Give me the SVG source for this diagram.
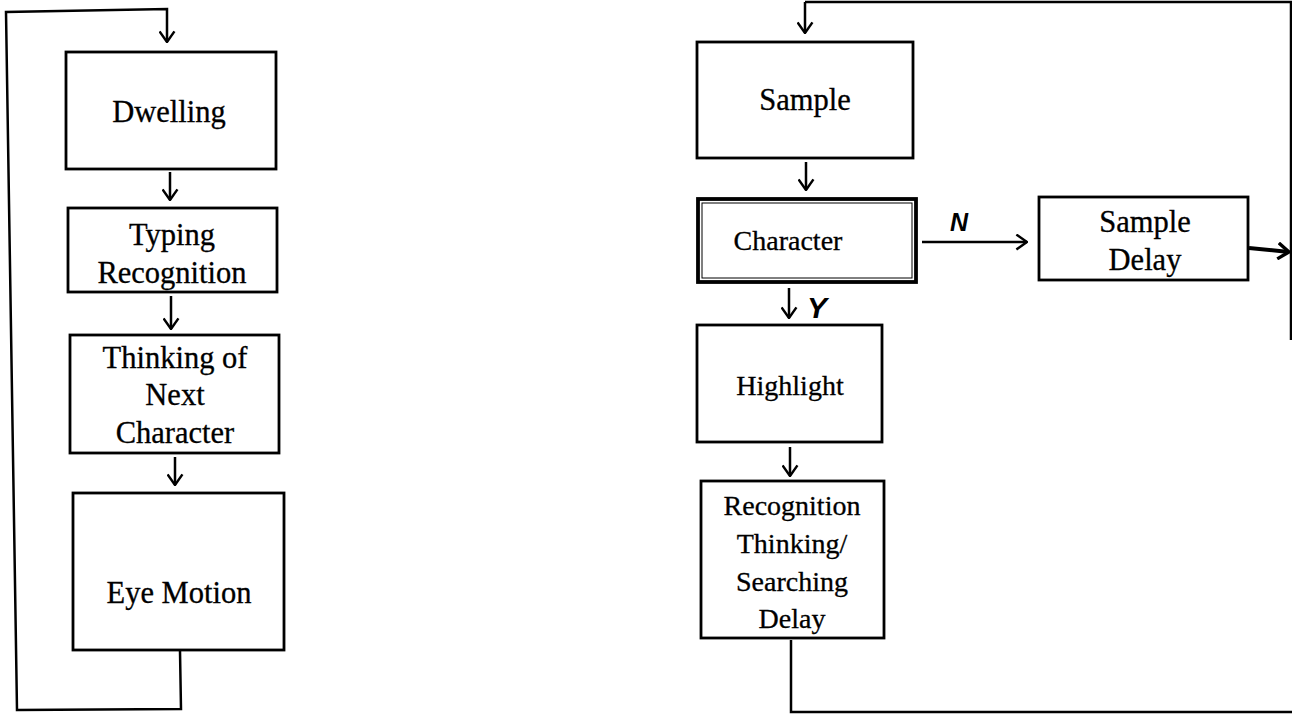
<svg xmlns="http://www.w3.org/2000/svg" width="1292" height="716" viewBox="0 0 1292 716">
<style>
  .box{fill:#fff;stroke:#000;stroke-width:2.8}
  .t{font-family:"Liberation Serif","Times New Roman",serif;fill:#000;text-anchor:middle;stroke:#000;stroke-width:0.3}
  .l{font-size:30.5px}
  .r{font-size:28px}
  .w{fill:none;stroke:#000;stroke-width:2.5}
  .hand{font-family:"Liberation Sans",Arial,sans-serif;font-style:italic;font-weight:bold;fill:#000}
</style>
<defs>
  <marker id="arr" viewBox="0 0 12 16" refX="11" refY="8" markerWidth="13" markerHeight="17" markerUnits="userSpaceOnUse" orient="auto">
    <path d="M1,1 L11,8 L1,15" fill="none" stroke="#000" stroke-width="2.3"/>
  </marker>
  <marker id="arrB" viewBox="0 0 14 18" refX="12" refY="9" markerWidth="14" markerHeight="18" markerUnits="userSpaceOnUse" orient="auto">
    <path d="M1,1 L12,9 L1,17" fill="none" stroke="#000" stroke-width="3.4"/>
  </marker>
</defs>

<g id="connectors">
  <!-- left loop -->
  <polyline class="w" points="180,651 181,709 17,710 6,12 167,9 167,42" marker-end="url(#arr)"/>
  <line class="w" x1="170" y1="172" x2="170" y2="200" marker-end="url(#arr)"/>
  <line class="w" x1="171" y1="296" x2="171" y2="329" marker-end="url(#arr)"/>
  <line class="w" x1="175" y1="457" x2="175" y2="485" marker-end="url(#arr)"/>
  <!-- right -->
  <polyline class="w" points="805,2 1291,2 1291,340"/>
  <line class="w" x1="805" y1="2" x2="805" y2="33" marker-end="url(#arr)"/>
  <line class="w" x1="806" y1="162" x2="806" y2="190" marker-end="url(#arr)"/>
  <line class="w" x1="922" y1="242" x2="1027" y2="242" marker-end="url(#arr)"/>
  <line x1="1249" y1="248" x2="1289" y2="252" stroke="#000" stroke-width="4" marker-end="url(#arrB)"/>
  <line class="w" x1="789" y1="288" x2="789" y2="318" marker-end="url(#arr)"/>
  <line class="w" x1="790" y1="447" x2="790" y2="476" marker-end="url(#arr)"/>
  <polyline class="w" points="791,640 791,712 1292,712"/>
  <text class="hand" x="950" y="231" font-size="25">N</text>
  <text class="hand" x="807" y="318" font-size="30">Y</text>
</g>

<g id="dwelling">
  <rect class="box" x="66" y="52" width="210" height="117"/>
  <text class="t l" x="169" y="122">Dwelling</text>
</g>
<g id="typing">
  <rect class="box" x="68" y="208" width="209" height="84"/>
  <text class="t l" x="172" y="245">Typing</text>
  <text class="t l" x="172" y="283">Recognition</text>
</g>
<g id="thinking">
  <rect class="box" x="70" y="335" width="209" height="118"/>
  <text class="t l" x="175" y="368">Thinking of</text>
  <text class="t l" x="175" y="405">Next</text>
  <text class="t l" x="175" y="443">Character</text>
</g>
<g id="eye">
  <rect class="box" x="73" y="493" width="211" height="157"/>
  <text class="t l" x="179" y="603">Eye Motion</text>
</g>

<g id="sample">
  <rect class="box" x="697" y="42" width="216" height="116"/>
  <text class="t l" x="805" y="110">Sample</text>
</g>
<g id="character">
  <rect x="698" y="199" width="218" height="83" fill="#fff" stroke="#000" stroke-width="3.8"/>
  <rect x="702" y="203" width="210" height="75" fill="none" stroke="#000" stroke-width="1"/>
  <text class="t r" x="788" y="250">Character</text>
</g>
<g id="sampledelay">
  <rect class="box" x="1039" y="197" width="209" height="83"/>
  <text class="t l" x="1145" y="232">Sample</text>
  <text class="t l" x="1145" y="270">Delay</text>
</g>
<g id="highlight">
  <rect class="box" x="697" y="325" width="185" height="117"/>
  <text class="t r" x="790" y="395">Highlight</text>
</g>
<g id="recognition">
  <rect class="box" x="701" y="481" width="183" height="157"/>
  <text class="t r" x="792" y="515">Recognition</text>
  <text class="t r" x="792" y="553">Thinking/</text>
  <text class="t r" x="792" y="591">Searching</text>
  <text class="t r" x="792" y="628">Delay</text>
</g>
</svg>
